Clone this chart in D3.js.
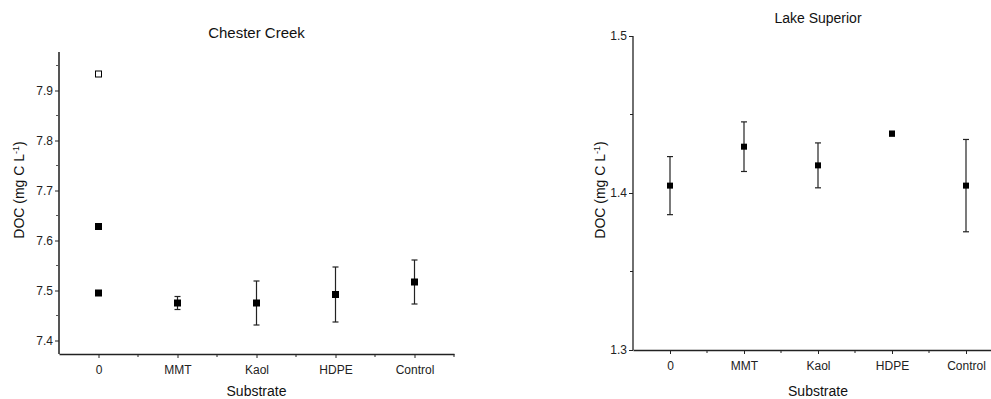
<!DOCTYPE html>
<html>
<head>
<meta charset="utf-8">
<script src="https://cdn.jsdelivr.net/npm/d3@7"></script>
<style>
  body { margin: 0; background: #fff; }
  svg { display: block; font-family: "Liberation Sans", Arial, sans-serif; }
</style>
</head>
<body>
<svg id="chart" width="991" height="399"></svg>
<script>
// categories shared by both panels
const substrates = ["0", "MMT", "Kaol", "HDPE", "Control"];

// Chester Creek: mean DOC and error (mg C/L)
const chesterMean = [7.495, 7.475, 7.475, 7.492, 7.517];
const chesterErr = [0, 0.013, 0.044, 0.055, 0.044];
// extra points at substrate 0
const chesterExtraFilled = [7.628];
const chesterExtraOpen = [7.933];
const chesterTicks = [7.4, 7.5, 7.6, 7.7, 7.8, 7.9];

// Lake Superior
const superiorMean = [1.4047, 1.4295, 1.4176, 1.4378, 1.4047];
const superiorErr = [0.0185, 0.0158, 0.0143, 0.0015, 0.0294];
const superiorTicks = [1.3, 1.4, 1.5];

const svg = d3.select("#chart");

function panel(cfg) {
	let g = svg.append("g");
	let x = d3.scaleLinear().domain([-0.5, 4.5]).range([cfg.left, cfg.right]);
	let y = d3.scaleLinear().domain(cfg.ydom).range([cfg.bottom, cfg.top]);

	// y axis, major + minor ticks
	let ya = g.append("g")
		.attr("transform", `translate(${cfg.left},0)`)
		.call(d3.axisLeft(y).tickValues(cfg.ticks).tickSize(4).tickSizeOuter(0).tickFormat(d3.format(".1f")));
	let minorY = cfg.ticks.slice(0, -1).map(t => +(t + cfg.step / 2).toFixed(3));
	if (cfg.extraMinor) minorY.push(...cfg.extraMinor);
	g.append("g")
		.attr("transform", `translate(${cfg.left},0)`)
		.selectAll("line").data(minorY).join("line")
		.attr("x1", -3).attr("x2", 0)
		.attr("y1", d => y(d)).attr("y2", d => y(d))
		.attr("stroke", cfg.axisColor).attr("stroke-width", 1);

	// x axis
	let xa = g.append("g")
		.attr("transform", `translate(0,${cfg.bottom})`)
		.call(d3.axisBottom(x).tickValues(d3.range(5)).tickSize(4).tickSizeOuter(0).tickFormat(i => substrates[i]));
	g.append("g")
		.attr("transform", `translate(0,${cfg.bottom})`)
		.selectAll("line").data([0.5, 1.5, 2.5, 3.5, 4.5]).join("line")
		.attr("x1", d => x(d)).attr("x2", d => x(d))
		.attr("y1", 0).attr("y2", 3)
		.attr("stroke", "#222");

	for (let a of [ya, xa]) {
		a.selectAll("text").attr("fill", "#222").style("font-size", "12px");
		a.selectAll("line").attr("stroke", "#222");
	}
	ya.select(".domain").attr("stroke", cfg.axisColor).attr("stroke-width", cfg.axisWidth)
		.attr("d", `M0,${cfg.bottom}V${cfg.top}`);
	xa.select(".domain").attr("stroke", "#222").attr("stroke-width", 1.3);
	ya.selectAll(".tick text").attr("x", -6);
	xa.selectAll(".tick text").attr("y", 11);

	// error bars
	let pts = substrates.map((s, i) => ({i, m: cfg.mean[i], e: cfg.err[i]})).filter(d => d.e > 0);
	let eb = g.append("g").attr("stroke", "#222").attr("stroke-width", 1.2);
	eb.selectAll(".v").data(pts).join("line")
		.attr("x1", d => x(d.i)).attr("x2", d => x(d.i))
		.attr("y1", d => y(d.m - d.e)).attr("y2", d => y(d.m + d.e));
	eb.selectAll(".cap").data(pts.flatMap(d => [{i: d.i, v: d.m - d.e}, {i: d.i, v: d.m + d.e}])).join("line")
		.attr("x1", d => x(d.i) - 3).attr("x2", d => x(d.i) + 3)
		.attr("y1", d => y(d.v)).attr("y2", d => y(d.v));

	// markers
	let s = cfg.marker;
	let filled = cfg.mean.map((m, i) => ({i, v: m}));
	(cfg.extraFilled || []).forEach(v => filled.push({i: 0, v}));
	g.selectAll(".pt").data(filled).join("rect")
		.attr("x", d => x(d.i) - s / 2).attr("y", d => y(d.v) - s / 2)
		.attr("width", s).attr("height", s).attr("fill", "#000");
	g.selectAll(".open").data((cfg.extraOpen || []).map(v => ({i: 0, v}))).join("rect")
		.attr("x", d => x(d.i) - 3).attr("y", d => y(d.v) - 3)
		.attr("width", 6).attr("height", 6)
		.attr("fill", "#fff").attr("stroke", "#000").attr("stroke-width", 1);

	// texts
	let cx = (x(0) + x(4)) / 2;
	g.append("text").attr("x", cx).attr("y", cfg.titleY).attr("text-anchor", "middle")
		.style("font-size", cfg.titleSize).attr("fill", "#111").text(cfg.title);
	g.append("text").attr("x", cx).attr("y", 396).attr("text-anchor", "middle")
		.style("font-size", "14px").attr("fill", "#111").text("Substrate");
	let yl = g.append("text")
		.attr("transform", `translate(${cfg.ylabX},${cfg.ylabY}) rotate(-90)`)
		.attr("text-anchor", "middle").style("font-size", "14px").attr("fill", "#111");
	yl.append("tspan").text("DOC (mg C L");
	yl.append("tspan").attr("dy", -5).style("font-size", "9px").text("-1");
	yl.append("tspan").attr("dy", 5).text(")");
}

panel({
	title: "Chester Creek", titleY: 38, titleSize: "15px",
	left: 59, right: 454, top: 52, bottom: 354,
	ydom: [7.373, 7.977], ticks: chesterTicks, step: 0.1, extraMinor: [7.95],
	mean: chesterMean, err: chesterErr,
	extraFilled: chesterExtraFilled, extraOpen: chesterExtraOpen,
	axisColor: "#555", axisWidth: 2, marker: 7,
	ylabX: 24, ylabY: 190
});

panel({
	title: "Lake Superior", titleY: 23, titleSize: "14px",
	left: 633, right: 1003, top: 36, bottom: 350,
	ydom: [1.3, 1.5], ticks: superiorTicks, step: 0.1,
	mean: superiorMean, err: superiorErr,
	axisColor: "#222", axisWidth: 1.3, marker: 6,
	ylabX: 605, ylabY: 190
});
</script>
</body>
</html>
